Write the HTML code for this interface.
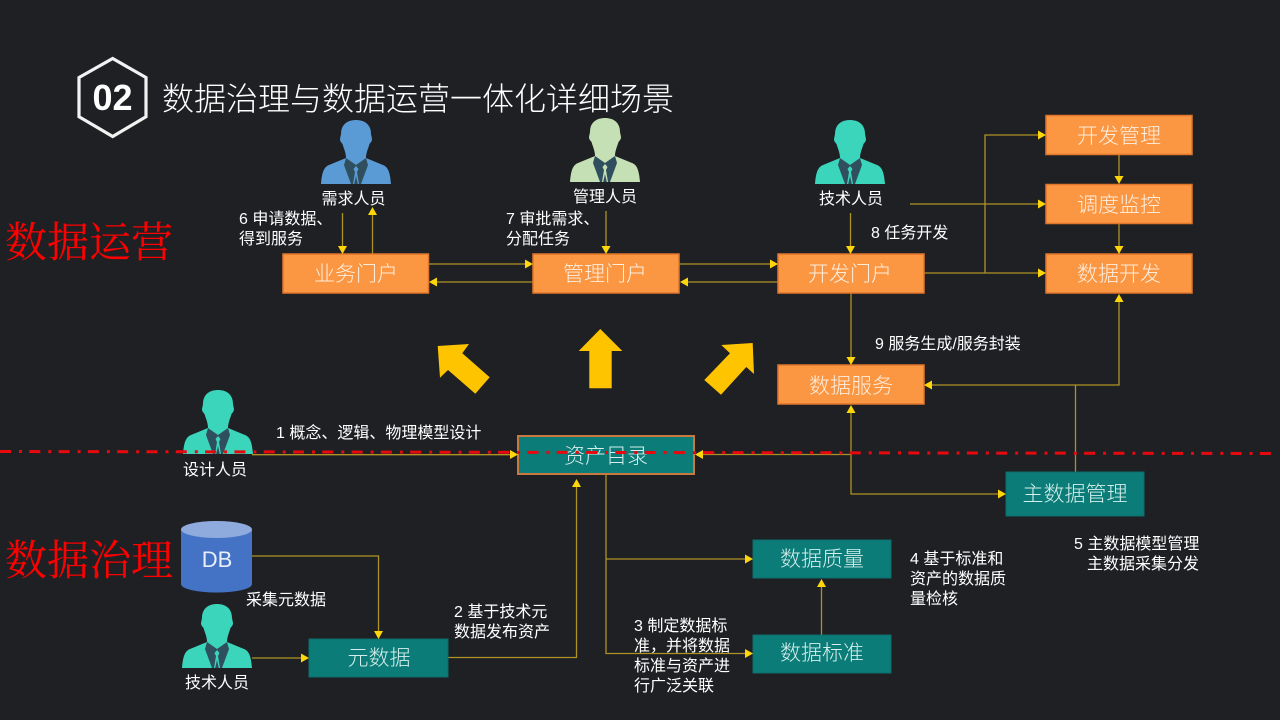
<!DOCTYPE html>
<html lang="zh">
<head>
<meta charset="utf-8">
<title>数据治理与数据运营一体化详细场景</title>
<style>
html,body{margin:0;padding:0;background:#1f2024;width:1280px;height:720px;overflow:hidden}
svg{display:block}
text{font-family:"Liberation Sans","Noto Sans CJK SC",sans-serif;fill:#fff}
.t{font-size:16px;font-family:"Liberation Sans","WenQuanYi Zen Hei",sans-serif}
.l{font-size:16px;text-anchor:middle;font-family:"Liberation Sans","WenQuanYi Zen Hei",sans-serif}
.b{font-size:21px;font-weight:300;text-anchor:middle;fill:#fdeede}
.g{font-size:21px;font-weight:300;text-anchor:middle;fill:#d5efec}
.r{font-family:"Liberation Serif","Noto Serif CJK SC",serif;font-size:42px;fill:#ff0000}
.o{fill:#fb9642;stroke:#e0752b;stroke-width:1.5}
.k{fill:#0c7c78;stroke:#0c6e6b;stroke-width:1}
.c{fill:none;stroke:#ad9325;stroke-width:1.3}
.h{fill:#ffd60a}
</style>
</head>
<body>
<svg width="1280" height="720" viewBox="0 0 1280 720" xmlns="http://www.w3.org/2000/svg">
<defs>
<g id="tie">
<path d="M25,38 L35,45 L45,38 L47,45 L40,64 L30,64 L23,45Z" fill="#2f4e5e"/>
</g>
<path id="body" d="M20,14 C20,4 27,0 35,0 C43,0 50,4 50,14 L51,19 C51,22 49,23 48.500,24 C47,29 45,33 45,38 L62,45 C67,47 69,52 70,64 L0,64 C1,52 3,47 8,45 L25,38 C25,33 23,29 21.500,24 C21,23 19,22 19,19Z"/>
<path id="knot" d="M35,46 L37.500,49 L36,52 L38,64 L36.800,64 L35,56 L33.200,64 L32,64 L34,52 L32.500,49Z"/>
</defs>

<rect width="1280" height="720" fill="#1f2024"/>

<!-- heading -->
<polygon points="112.700,58.500 146,77.500 146,116.700 112.700,136.500 79,116.700 79,77.500" fill="none" stroke="#f2f2f2" stroke-width="3.200"/>
<text x="112.500" y="110" text-anchor="middle" style="font-size:36px;font-weight:700">02</text>
<text x="162" y="110" style="font-size:32px;font-weight:300">数据治理与数据运营一体化详细场景</text>

<text class="r" x="5" y="257">数据运营</text>
<text class="r" x="5" y="575">数据治理</text>

<!-- people -->
<g transform="translate(321,120)" fill="#5b9bd5"><use href="#body"/><use href="#tie"/><use href="#knot"/></g>
<g transform="translate(570,118)" fill="#c5e0b4"><use href="#body"/><use href="#tie"/><use href="#knot"/></g>
<g transform="translate(815,120)" fill="#3ad5bb"><use href="#body"/><use href="#tie"/><use href="#knot"/></g>
<g transform="translate(183,390)" fill="#3ad5bb"><use href="#body"/><use href="#tie"/><use href="#knot"/></g>
<g transform="translate(182,604)" fill="#3ad5bb"><use href="#body"/><use href="#tie"/><use href="#knot"/></g>

<text class="l" x="353.500" y="204">需求人员</text>
<text class="l" x="605" y="202">管理人员</text>
<text class="l" x="851" y="204">技术人员</text>
<text class="l" x="215" y="475">设计人员</text>
<text class="l" x="217" y="688">技术人员</text>

<!-- database -->
<path d="M181,529.500 V584 C181,589 197,592.500 216.500,592.500 C236,592.500 252,589 252,584 V529.500Z" fill="#4472c4"/>
<ellipse cx="216.500" cy="529.500" rx="35.500" ry="8.500" fill="#8faadc"/>
<text x="217" y="567" text-anchor="middle" style="font-family:'Liberation Sans',sans-serif;font-size:22px;fill:#e8effa">DB</text>

<!-- connectors -->
<g class="c">
<path class="c" d="M342.500,213 V247"/>
<path class="c" d="M372.500,254 V214"/>
<path class="c" d="M606,211 V247"/>
<path class="c" d="M850.500,213 V247"/>
<path class="c" d="M428,264 H526"/>
<path class="c" d="M533,282 H436"/>
<path class="c" d="M679,264 H771"/>
<path class="c" d="M778,282 H687"/>
<path class="c" d="M924,273 H1039"/>
<path class="c" d="M985,273 V135 H1039"/>
<path class="c" d="M910,204 H1039"/>
<path class="c" d="M1119,155 V177"/>
<path class="c" d="M1119,224 V247"/>
<path class="c" d="M851,293 V358"/>
<path class="c" d="M851,412 V494 H999"/>
<path class="c" d="M851,454.500 H702"/>
<path class="c" d="M1075.500,472 V385"/>
<path class="c" d="M931,385 H1119 V301"/>
<path class="c" d="M252,454.700 H511"/>
<path class="c" d="M252,556 H378.500 V632"/>
<path class="c" d="M252,658 H302"/>
<path class="c" d="M448,657.500 H576.500 V486"/>
<path class="c" d="M606,474 V653.500 H746"/>
<path class="c" d="M606,559 H746"/>
<path class="c" d="M821.500,635 V586"/>
</g>

<!-- boxes -->
<rect class="o" x="283" y="254" width="145.500" height="39"/>
<rect class="o" x="533" y="254" width="146" height="39"/>
<rect class="o" x="778" y="254" width="146" height="39"/>
<rect class="o" x="1046" y="115.500" width="146" height="39"/>
<rect class="o" x="1046" y="184.500" width="146" height="39"/>
<rect class="o" x="1046" y="254" width="146" height="39"/>
<rect class="o" x="778" y="365" width="146" height="39"/>
<rect x="518" y="436" width="176" height="38" fill="#0c7c78" stroke="#c8793f" stroke-width="2"/>
<rect class="k" x="1006" y="472" width="138" height="44"/>
<rect class="k" x="753" y="540" width="138" height="38"/>
<rect class="k" x="753" y="635" width="138" height="38"/>
<rect class="k" x="309" y="639" width="139" height="38"/>

<!-- arrowheads -->
<g class="h">
<polygon points="338,246 347,246 342.500,254"/>
<polygon points="368,215 377,215 372.500,207"/>
<polygon points="601.500,246 610.500,246 606,254"/>
<polygon points="846,246 855,246 850.500,254"/>
<polygon points="525,259.500 525,268.500 533,264"/>
<polygon points="437,277.500 437,286.500 429,282"/>
<polygon points="770,259.500 770,268.500 778,264"/>
<polygon points="688,277.500 688,286.500 680,282"/>
<polygon points="1038,268.500 1038,277.500 1046,273"/>
<polygon points="1038,130.500 1038,139.500 1046,135"/>
<polygon points="1038,199.500 1038,208.500 1046,204"/>
<polygon points="1114.500,176 1123.500,176 1119,184"/>
<polygon points="1114.500,246 1123.500,246 1119,254"/>
<polygon points="846.500,357 855.500,357 851,365"/>
<polygon points="846.500,413 855.500,413 851,405"/>
<polygon points="998,489.500 998,498.500 1006,494"/>
<polygon points="703,450 703,459 695,454.500"/>
<polygon points="932,380.500 932,389.500 924,385"/>
<polygon points="1114.500,302 1123.500,302 1119,294"/>
<polygon points="510,450 510,459 518,454.500"/>
<polygon points="374,631 383,631 378.500,639"/>
<polygon points="301,653.500 301,662.500 309,658"/>
<polygon points="572,487 581,487 576.500,479"/>
<polygon points="745,649 745,658 753,653.500"/>
<polygon points="745,554.500 745,563.500 753,559"/>
<polygon points="817,587 826,587 821.500,579"/>
</g>

<!-- big arrows -->
<g fill="#ffc400">
<polygon points="437.700,346 469,344 462.300,353.300 489.700,377.300 475.300,393.700 448,370 440,377.700"/>
<polygon points="600.300,329 622.300,351 611.700,351 611.700,388.300 589.300,388.300 589.300,351 578.700,351"/>
<polygon points="752.700,343 754,374 746.300,367 721,394.700 704.300,380 730,353.300 721.300,345"/>
</g>

<!-- box labels -->
<text class="b" x="356" y="281">业务门户</text>
<text class="b" x="605" y="281">管理门户</text>
<text class="b" x="850" y="281">开发门户</text>
<text class="b" x="1119" y="143">开发管理</text>
<text class="b" x="1119" y="212">调度监控</text>
<text class="b" x="1119" y="281">数据开发</text>
<text class="b" x="851" y="393">数据服务</text>
<text class="g" x="606" y="463">资产目录</text>
<text class="g" x="1075" y="501">主数据管理</text>
<text class="g" x="822" y="566">数据质量</text>
<text class="g" x="822" y="660">数据标准</text>
<text class="g" x="379" y="665">元数据</text>

<!-- annotations -->
<text class="t" x="239" y="224">6 申请数据、</text>
<text class="t" x="239" y="244">得到服务</text>
<text class="t" x="506" y="224">7 审批需求、</text>
<text class="t" x="506" y="244">分配任务</text>
<text class="t" x="871" y="238">8 任务开发</text>
<text class="t" x="875" y="349">9 服务生成/服务封装</text>
<text class="t" x="276" y="438">1 概念、逻辑、物理模型设计</text>
<text class="t" x="246" y="605">采集元数据</text>
<text class="t" x="454" y="617">2 基于技术元</text>
<text class="t" x="454" y="637">数据发布资产</text>
<text class="t" x="634" y="631">3 制定数据标</text>
<text class="t" x="634" y="651">准，并将数据</text>
<text class="t" x="634" y="671">标准与资产进</text>
<text class="t" x="634" y="691">行广泛关联</text>
<text class="t" x="910" y="564">4 基于标准和</text>
<text class="t" x="910" y="584">资产的数据质</text>
<text class="t" x="910" y="604">量检核</text>
<text class="t" x="1074" y="549">5 主数据模型管理</text>
<text class="t" x="1087" y="569">主数据采集分发</text>

<!-- divider -->
<line x1="0" y1="451.500" x2="1272" y2="453.500" stroke="#e8090f" stroke-width="3" stroke-dasharray="11 8 3 7.300"/>
</svg>
</body>
</html>
